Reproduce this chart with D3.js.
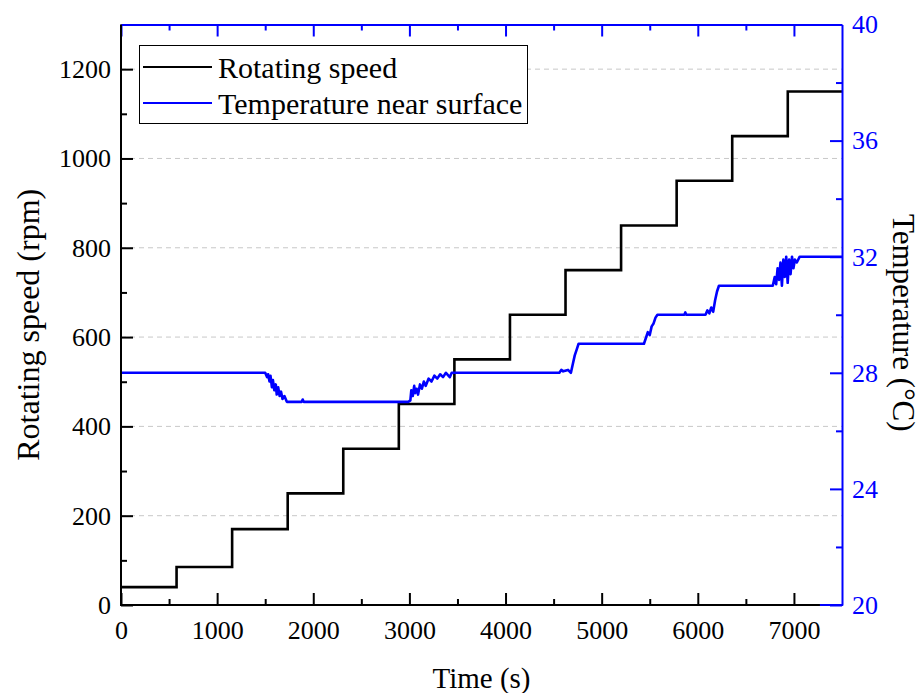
<!DOCTYPE html>
<html><head><meta charset="utf-8">
<script src="https://cdn.jsdelivr.net/npm/d3@7"></script>
<style>
body{margin:0;background:#fff;}
text{font-family:"Liberation Serif","Times New Roman",serif;}
</style></head>
<body>
<svg id="c" width="921" height="693"></svg>
<script>
// Rotating speed step data (time of step start, rpm)
const speedTime = [0, 578, 1156, 1734, 2312, 2890, 3468, 4046, 4624, 5202, 5780, 6358, 6936, 7500];
const speedValue = [40, 85, 170, 250, 350, 450, 550, 650, 750, 850, 950, 1050, 1150, 1150];

// Temperature near surface
const tempTime = [0, 1500, 1520, 1530, 1545, 1555, 1570, 1580, 1595, 1610, 1620, 1635, 1650, 1665, 1680, 1700, 1725,
  1880, 1890, 1900,
  2990, 3010, 3020, 3035, 3050, 3060, 3075, 3090, 3110, 3130, 3150, 3170, 3200, 3230, 3260, 3290, 3320, 3350, 3380, 3420, 3440,
  4560, 4580, 4600, 4650, 4680, 4700, 4720, 4740, 4760,
  5440, 5460, 5480, 5500, 5520, 5540, 5560, 5580,
  5860, 5870, 5880,
  6080, 6100, 6120, 6140, 6160, 6180, 6200, 6220,
  6780, 6800, 6815, 6830, 6845, 6860, 6875, 6890, 6905, 6920, 6935, 6950, 6965, 6980, 6995, 7010, 7030, 7060, 7500];
const tempValue = [28, 28, 27.85, 27.95, 27.7, 27.9, 27.5, 27.75, 27.4, 27.6, 27.25, 27.5, 27.2, 27.35, 27.1, 27.2, 27.0,
  27.0, 27.08, 27.0,
  27.0, 27.05, 27.4, 27.2, 27.55, 27.3, 27.45, 27.25, 27.6, 27.45, 27.7, 27.55, 27.8, 27.7, 27.9, 27.8, 27.95, 27.85, 28.0, 27.85, 28.0,
  28.0, 28.1, 28.05, 28.1, 28.0, 28.3, 28.6, 28.8, 29.0,
  29.0, 29.2, 29.4, 29.3, 29.6, 29.7, 29.9, 30.0,
  30.0, 30.08, 30.0,
  30.0, 30.15, 30.05, 30.25, 30.1, 30.5, 30.8, 31.0,
  31.0, 31.3, 31.05, 31.6, 31.2, 31.8, 31.0, 31.9, 31.3, 32.0, 31.1, 31.9, 31.4, 32.0, 31.6, 31.9, 31.8, 32.0, 32.0];

const xTicks = [0, 1000, 2000, 3000, 4000, 5000, 6000, 7000];
const yLeftTicks = [0, 200, 400, 600, 800, 1000, 1200];
const yRightTicks = [20, 24, 28, 32, 36, 40];
const legendLabels = ["Rotating speed", "Temperature near surface"];

const svg = d3.select("#c");
const L = 121, T = 24.5, R = 842, B = 605;
const blue = "#0000ff";
const x = d3.scaleLinear().domain([0, 7500]).range([L, R]);
const yL = d3.scaleLinear().domain([0, 1300]).range([B, T]);
const yR = d3.scaleLinear().domain([20, 40]).range([B, T]);

// grid
svg.append("g").selectAll("line").data(yLeftTicks.filter(d => d > 0)).join("line")
  .attr("x1", L).attr("x2", R).attr("y1", d => yL(d)).attr("y2", d => yL(d))
  .attr("stroke", "#c8c8c8").attr("stroke-width", 1).attr("stroke-dasharray", "5,4");

// data lines
const speedLine = d3.line().curve(d3.curveStepAfter).x((d, i) => x(speedTime[i])).y(d => yL(d));
svg.append("path").attr("d", speedLine(speedValue)).attr("fill", "none")
  .attr("stroke", "#000").attr("stroke-width", 2.6);

const tempLine = d3.line().x((d, i) => x(tempTime[i])).y(d => yR(d));
svg.append("path").attr("d", tempLine(tempValue)).attr("fill", "none")
  .attr("stroke", blue).attr("stroke-width", 2.6).attr("stroke-linejoin", "round");

function styleAxis(g, color, fs) {
  g.selectAll("path,line").attr("stroke", color).attr("stroke-width", 2);
  g.selectAll("text").attr("fill", color).attr("font-size", fs).attr("font-family", "Liberation Serif, Times New Roman, serif");
}
const minorX = d3.range(500, 7500, 1000);
const minorYL = d3.range(100, 1300, 200);
const minorYR = d3.range(22, 40, 4);

// top axis (blue)
const gTop = svg.append("g").attr("transform", `translate(0,${T})`);
gTop.call(d3.axisTop(x).tickValues(xTicks).tickSize(-12).tickSizeOuter(0).tickFormat(""));
gTop.append("g").call(d3.axisTop(x).tickValues(minorX).tickSize(-6).tickSizeOuter(0).tickFormat("")).select(".domain").remove();
styleAxis(gTop, blue, 26);

// right axis (blue)
const gR = svg.append("g").attr("transform", `translate(${R},0)`);
gR.call(d3.axisRight(yR).tickValues(yRightTicks).tickSize(-12).tickSizeOuter(0).tickPadding(10).tickFormat(d3.format("d")));
gR.append("g").call(d3.axisRight(yR).tickValues(minorYR).tickSize(-6).tickSizeOuter(0).tickFormat("")).select(".domain").remove();
styleAxis(gR, blue, 26);
gR.selectAll(".tick text").attr("x", 10);

// bottom blue segment under black
svg.append("line").attr("x1", L).attr("x2", R + 1).attr("y1", B).attr("y2", B).attr("stroke", blue).attr("stroke-width", 2);

// bottom axis
const gB = svg.append("g").attr("transform", `translate(0,${B})`);
gB.call(d3.axisBottom(x).tickValues(xTicks).tickSize(-12).tickSizeOuter(0).tickPadding(16).tickFormat(d3.format("d")));
gB.append("g").call(d3.axisBottom(x).tickValues(minorX).tickSize(-6).tickSizeOuter(0).tickFormat("")).select(".domain").remove();
gB.select(".domain").attr("d", `M${L - 1},0H${x(7270)}`);
styleAxis(gB, "#000", 26);
gB.selectAll(".tick text").attr("y", 16);

// left axis
const gLft = svg.append("g").attr("transform", `translate(${L},0)`);
gLft.call(d3.axisLeft(yL).tickValues(yLeftTicks).tickSize(-12).tickSizeOuter(0).tickPadding(10).tickFormat(d3.format("d")));
gLft.append("g").call(d3.axisLeft(yL).tickValues(minorYL).tickSize(-6).tickSizeOuter(0).tickFormat("")).select(".domain").remove();
gLft.select(".domain").attr("d", `M0,${T}V${B + 1}`);
styleAxis(gLft, "#000", 26);
gLft.selectAll(".tick text").attr("x", -10);

// axis titles
svg.append("text").attr("x", (L + R) / 2).attr("y", 688).attr("text-anchor", "middle")
  .attr("font-size", 29).attr("fill", "#000").text("Time (s)");
svg.append("text").attr("transform", `translate(39,${(T + B) / 2 + 10}) rotate(-90)`).attr("text-anchor", "middle")
  .attr("font-size", 32).attr("fill", "#000").text("Rotating speed (rpm)");
svg.append("text").attr("transform", `translate(893,${(T + B) / 2 + 8}) rotate(90)`).attr("text-anchor", "middle")
  .attr("font-size", 31).attr("fill", "#000").text("Temperature (°C)");

// legend
const lg = svg.append("g");
lg.append("rect").attr("x", 139.5).attr("y", 45.5).attr("width", 388).attr("height", 78)
  .attr("fill", "#fff").attr("stroke", "#000").attr("stroke-width", 1);
const lgColors = ["#000", blue];
const lgY = [67, 103];
legendLabels.forEach((t, i) => {
  lg.append("line").attr("x1", 143).attr("x2", 212).attr("y1", lgY[i]).attr("y2", lgY[i])
    .attr("stroke", lgColors[i]).attr("stroke-width", 2.2);
  lg.append("text").attr("x", 218).attr("y", lgY[i]).attr("dy", "0.35em")
    .attr("font-size", 30).attr("fill", "#000").text(t);
});
</script>
</body></html>
